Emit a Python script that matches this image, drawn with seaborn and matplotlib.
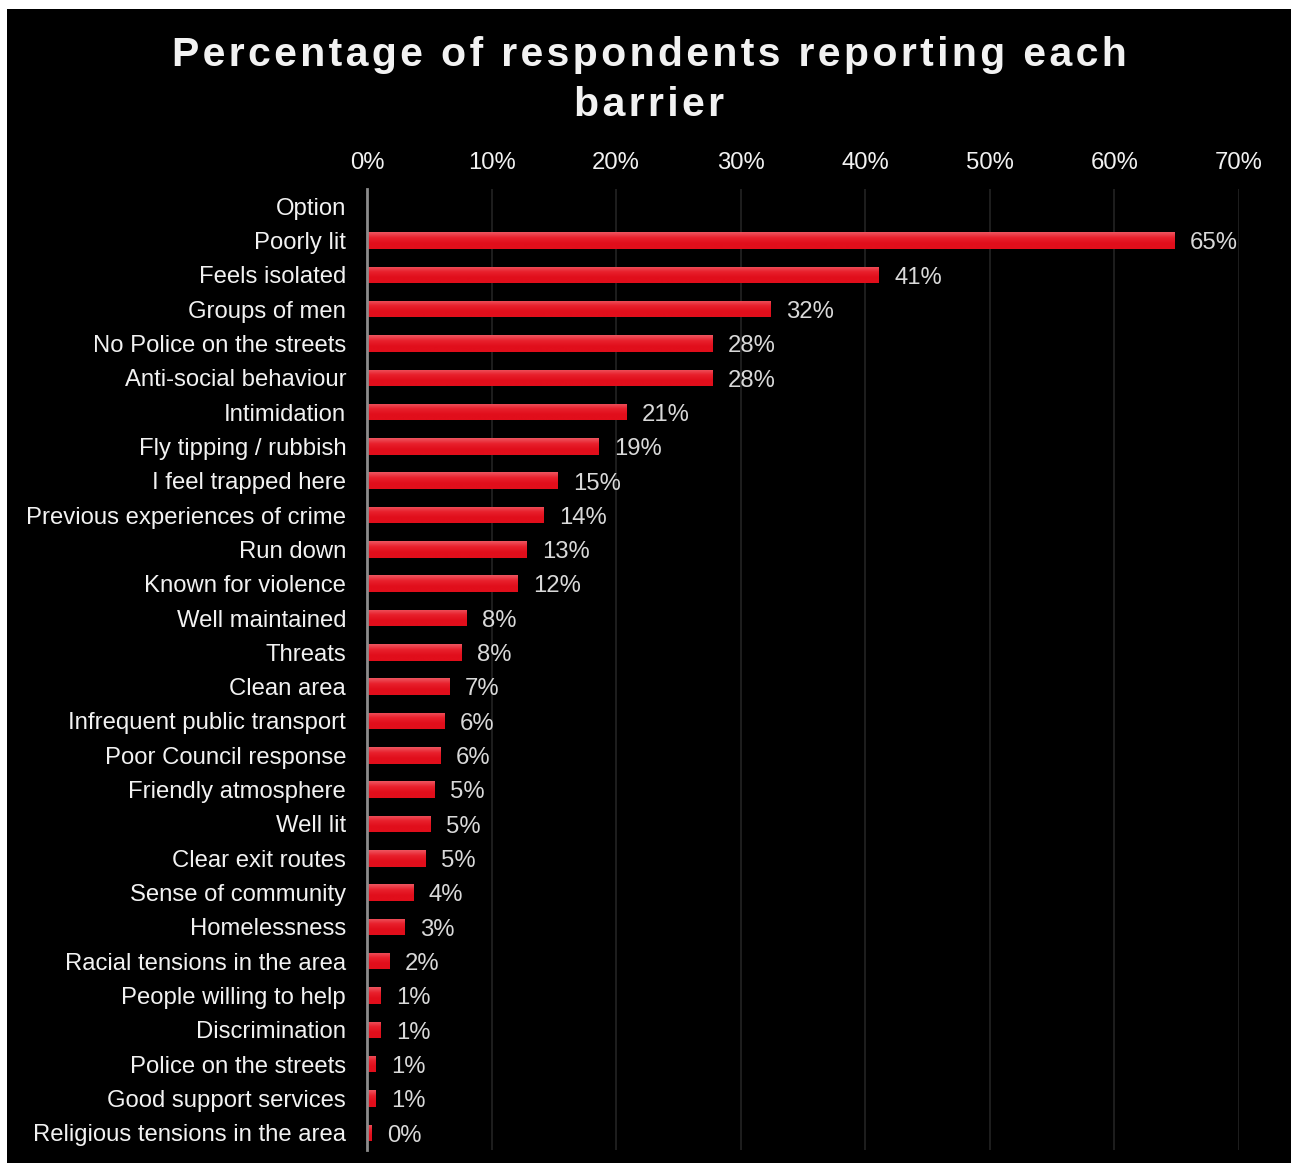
import numpy as np
import pandas as pd
import matplotlib
matplotlib.use("Agg")
import matplotlib.pyplot as plt
from matplotlib.patches import Rectangle
import seaborn as sns

# Data
barriers = [
    "Poorly lit", "Feels isolated", "Groups of men", "No Police on the streets",
    "Anti-social behaviour", "Intimidation", "Fly tipping / rubbish",
    "I feel trapped here", "Previous experiences of crime", "Run down",
    "Known for violence", "Well maintained", "Threats", "Clean area",
    "Infrequent public transport", "Poor Council response", "Friendly atmosphere",
    "Well lit", "Clear exit routes", "Sense of community", "Homelessness",
    "Racial tensions in the area", "People willing to help", "Discrimination",
    "Police on the streets", "Good support services", "Religious tensions in the area",
]
percent = [
    64.8, 41.1, 32.4, 27.7, 27.7, 20.8, 18.6, 15.3, 14.2, 12.8, 12.1,
    8.0, 7.6, 6.6, 6.2, 5.9, 5.4, 5.1, 4.7, 3.7, 3.0, 1.8, 1.1, 1.1, 0.7, 0.7, 0.4,
]
order = ["Option"] + barriers
x_ticks = [0, 10, 20, 30, 40, 50, 60, 70]

df = pd.DataFrame({"Barrier": barriers, "Percent": percent})

sns.set_theme(style="white")
plt.rcParams["font.family"] = ["Liberation Sans", "DejaVu Sans"]

fig = plt.figure(figsize=(12.91, 11.71), dpi=100, facecolor="white")
# black panel with thin white margin
fig.patches.append(Rectangle((7 / 1291, 8 / 1171), 1 - 7 / 1291, 1 - 17 / 1171,
                             transform=fig.transFigure, facecolor="black",
                             edgecolor="none", zorder=-10))

ax = fig.add_axes([367 / 1291, 1 - 1150 / 1171, 872 / 1291, 961 / 1171])
ax.set_facecolor("black")

sns.barplot(data=df, y="Barrier", x="Percent", order=order, orient="h",
            color="#e3101c", width=0.48, linewidth=0, edgecolor="none",
            ax=ax, zorder=3)

# vertical gradient on each bar (lighter on top)
grad = np.linspace(0, 1, 64).reshape(-1, 1)
cmap = matplotlib.colors.LinearSegmentedColormap.from_list(
    "bar", ["#ee5660", "#e8202c", "#e10e1b", "#e10e1b"])
for p in ax.patches:
    x0, y0 = p.get_x(), p.get_y()
    w, h = p.get_width(), p.get_height()
    if not np.isfinite(w) or w <= 0:
        continue
    im = ax.imshow(grad, cmap=cmap, aspect="auto", extent=[x0, x0 + w, y0 + h, y0],
                   origin="upper", zorder=4)
    im.set_clip_path(p)

ax.set_xlim(0, 70)
ax.set_ylim(len(order) - 0.5, -0.5)
ax.set_xticks(x_ticks)
ax.set_xticklabels([f"{t}%" for t in x_ticks])
ax.xaxis.tick_top()
ax.tick_params(axis="x", length=0, pad=11, labelsize=17.2, labelcolor="#f2f2f2")
ax.tick_params(axis="y", length=0, pad=15, labelsize=17.2, labelcolor="#f2f2f2")
ax.set_xlabel("")
ax.set_ylabel("")
ax.grid(axis="x", color="#232323", linewidth=1.2, zorder=0)
ax.set_axisbelow(True)
for side in ["top", "right", "bottom"]:
    ax.spines[side].set_visible(False)
ax.spines["left"].set_color("#8c8c8c")
ax.spines["left"].set_linewidth(2)
ax.spines["left"].set_zorder(5)

# data labels
for i, (b, v) in enumerate(zip(barriers, percent)):
    ax.annotate(f"{v:.0f}%", xy=(v, i + 1), xytext=(11, -2), textcoords="offset points",
                va="center", ha="left", fontsize=17.2, color="#d9d9d9")

# title with spread letters
title = "Percentage of respondents reporting each\nbarrier"
spaced = "\n".join("\u200a".join(line) for line in title.split("\n"))
fig.text(649 / 1291, 1 - 80 / 1171, spaced, ha="center", va="center",
         fontsize=29.5, fontweight="bold", color="#f2f2f2", linespacing=1.38)

fig.savefig("out.png", dpi=100, facecolor="white")
